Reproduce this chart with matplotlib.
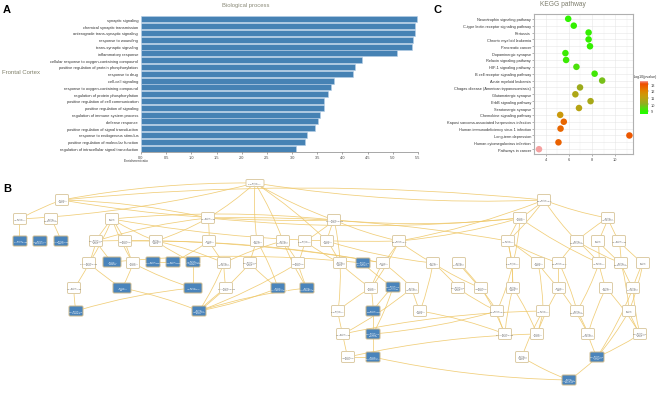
import matplotlib
matplotlib.use('Agg')
import matplotlib.pyplot as plt
import numpy as np
from matplotlib.patches import FancyBboxPatch, FancyArrowPatch
from matplotlib.colors import LinearSegmentedColormap, Normalize
from matplotlib.cm import ScalarMappable

plt.rcParams['font.family'] = ['Liberation Sans', 'DejaVu Sans']

# panel A - GO biological process
go_terms = ["synaptic signaling", "chemical synaptic transmission",
            "anterograde trans-synaptic signaling", "response to wounding",
            "trans-synaptic signaling", "inflammatory response",
            "cellular response to oxygen-containing compound",
            "positive regulation of protein phosphorylation", "response to drug",
            "cell-cell signaling", "response to oxygen-containing compound",
            "regulation of protein phosphorylation",
            "positive regulation of cell communication",
            "positive regulation of signaling",
            "regulation of immune system process", "defense response",
            "positive regulation of signal transduction",
            "response to endogenous stimulus",
            "positive regulation of molecular function",
            "regulation of intracellular signal transduction"]
go_ratio = [5.48, 5.45, 5.45, 5.40, 5.39, 5.08, 4.39, 4.25, 4.20, 3.84,
            3.77, 3.71, 3.64, 3.63, 3.55, 3.51, 3.45, 3.29, 3.26, 3.07]

# panel C - KEGG pathway
kegg_paths = ["Neurotrophin signaling pathway", "C-type lectin receptor signaling pathway",
              "Pertussis", "Chronic myeloid leukemia", "Pancreatic cancer",
              "Dopaminergic synapse", "Relaxin signaling pathway",
              "HIF-1 signaling pathway", "B cell receptor signaling pathway",
              "Acute myeloid leukemia", "Chagas disease (American trypanosomiasis)",
              "Glutamatergic synapse", "ErbB signaling pathway", "Serotonergic synapse",
              "Chemokine signaling pathway",
              "Kaposi sarcoma-associated herpesvirus infection",
              "Human immunodeficiency virus 1 infection", "Long-term depression",
              "Human cytomegalovirus infection", "Pathways in cancer"]
kegg_x = [5.95, 6.43, 7.71, 7.71, 7.83, 5.71, 5.77, 6.66, 8.23, 8.88,
          6.97, 6.57, 7.88, 6.88, 5.26, 5.57, 5.29, 11.23, 5.11, 3.43]
kegg_logp = [8.9, 9.0, 9.0, 9.0, 9.0, 9.1, 9.1, 9.3, 9.2, 9.8,
             10.3, 10.6, 10.5, 10.8, 11.3, 12.5, 12.5, 12.8, 12.6, 13.45]
legend_ticks = [9, 10, 11, 12, 13]

# panel B - GO DAG layout (x, y in figure pixels), blue = enriched term
node_x = [255, 62, 544, 20, 51, 112, 208, 334, 520, 608,
          20, 40, 61, 96, 125, 156, 209, 257, 283, 305,
          327, 399, 508, 577, 598, 619, 89, 112, 133, 153,
          173, 193, 224, 250, 298, 340, 363, 383, 433, 459,
          513, 538, 559, 599, 621, 643, 74, 122, 193, 226,
          278, 307, 371, 393, 412, 458, 481, 513, 559, 606,
          633, 76, 199, 338, 373, 420, 497, 543, 577, 629,
          343, 373, 505, 537, 588, 640, 348, 373, 522, 597, 569]
node_y = [184, 201, 201, 220, 220, 220, 219, 221, 219, 219,
          242, 242, 242, 242, 242, 242, 242, 242, 242, 242,
          242, 242, 242, 242, 242, 242, 264, 263, 264, 263,
          263, 263, 264, 264, 264, 264, 264, 264, 264, 264,
          264, 264, 264, 264, 264, 264, 289, 289, 289, 289,
          289, 289, 289, 288, 289, 289, 289, 289, 289, 289,
          289, 312, 312, 312, 312, 312, 312, 312, 312, 312,
          335, 335, 335, 335, 335, 335, 358, 358, 358, 358, 381]
node_blue = [0, 0, 0, 0, 0, 0, 0, 0, 0, 0,
             1, 1, 1, 0, 0, 0, 0, 0, 0, 0,
             0, 0, 0, 0, 0, 0, 0, 1, 0, 1,
             1, 1, 0, 0, 0, 0, 1, 0, 0, 0,
             0, 0, 0, 0, 0, 0, 0, 1, 1, 0,
             1, 1, 0, 1, 0, 0, 0, 0, 0, 0,
             0, 1, 1, 0, 1, 0, 0, 0, 0, 0,
             0, 1, 0, 0, 0, 0, 0, 1, 0, 1, 1]
edges = [(0, 1), (0, 3), (0, 2), (0, 6), (0, 17), (0, 18), (0, 7), (0, 20),
         (1, 3), (1, 6), (1, 7), (1, 2), (3, 10), (4, 12),
         (5, 13), (5, 14), (5, 15), (5, 26), (5, 28), (5, 7), (5, 21),
         (6, 16), (6, 13), (6, 15), (6, 8), (6, 22),
         (7, 20), (7, 19), (7, 21), (7, 35), (7, 8),
         (2, 8), (2, 9), (2, 22), (2, 23), (2, 21),
         (8, 22), (8, 21), (8, 43), (8, 40), (9, 23), (9, 24), (9, 25),
         (13, 26), (13, 27), (13, 37), (14, 28), (14, 37), (15, 31), (15, 32),
         (16, 32), (16, 30), (17, 33), (17, 50), (18, 32), (18, 34), (18, 51),
         (19, 34), (19, 35), (20, 35), (20, 38), (21, 37), (21, 38), (21, 52),
         (22, 40), (22, 41), (22, 42), (22, 57), (23, 42), (23, 43), (23, 44),
         (24, 43), (24, 44), (25, 44), (25, 45), (26, 46), (26, 47),
         (28, 47), (28, 48), (31, 48), (32, 49), (32, 62), (33, 50), (33, 62),
         (34, 51), (34, 62), (35, 52), (35, 63), (36, 53), (37, 54), (37, 52),
         (38, 55), (38, 56), (38, 65), (39, 56), (39, 66), (40, 57), (40, 66),
         (41, 58), (41, 67), (42, 58), (42, 68), (43, 59), (43, 68),
         (44, 60), (44, 69), (45, 60), (45, 69), (46, 61), (47, 62),
         (49, 62), (50, 62), (51, 62), (61, 48), (52, 63), (52, 64),
         (53, 64), (53, 71), (54, 65), (54, 70), (55, 66), (56, 72),
         (57, 72), (57, 73), (58, 73), (58, 74), (59, 74), (59, 75),
         (60, 75), (60, 79), (63, 70), (64, 71), (70, 76), (71, 77), (76, 77),
         (65, 72), (66, 72), (67, 73), (67, 78), (68, 74), (69, 75), (69, 79),
         (74, 79), (75, 79), (78, 80), (79, 80), (77, 80), (76, 73),
         (71, 66), (70, 67), (29, 30), (27, 36)]
parent_terms = ["biological_process", "response to stimulus", "biological regulation",
                "cellular process", "regulation of biological process",
                "signaling", "cell communication", "multicellular organismal process",
                "response to chemical", "regulation of cellular process",
                "positive regulation of biological process", "immune system process",
                "regulation of response to stimulus", "response to stress",
                "regulation of signaling", "regulation of phosphorylation"]

fig = plt.figure(figsize=(6.69, 4.06), dpi=100)
W, H = 669.0, 406.0

# ---------- A ----------
axA = fig.add_axes([141 / W, 1 - 153 / H, 277 / W, 136 / H])
ypos = np.arange(len(go_terms))
axA.barh(ypos, go_ratio, height=0.9, color='#4682b4', edgecolor='#b7cfe6', linewidth=0.4)
axA.set_ylim(len(go_terms) - 0.5, -0.5)
axA.set_xlim(0, 5.5)
axA.set_yticks(ypos)
axA.set_yticklabels(go_terms, fontsize=2.9, color='#333333')
axA.set_xticks(np.arange(0, 5.51, 0.5))
axA.set_xticklabels(["%.1f" % v for v in np.arange(0, 5.51, 0.5)], fontsize=2.8, color='#444444')
axA.tick_params(axis='y', length=0, pad=2)
axA.tick_params(axis='x', length=1.5, width=0.4, pad=1, color='#666666')
for s in ['top', 'right', 'left']:
    axA.spines[s].set_visible(False)
axA.spines['bottom'].set_linewidth(0.4)
axA.spines['bottom'].set_color('#666666')

fig.text(222 / W, 1 - 5 / H, "Biological process", fontsize=4.2, color='#8a8a78', va='center')
fig.text(2 / W, 1 - 73 / H, "Frontal Cortex", fontsize=4.3, color='#80806a', va='center')
fig.text(136 / W, 1 - 161 / H, "Enrichment ratio", fontsize=2.3, color='#333333', ha='center', va='center')

# ---------- C ----------
axC = fig.add_axes([534 / W, 1 - 155 / H, 99 / W, 140 / H])
cmap = LinearSegmentedColormap.from_list('kegg', [
    (0.00, '#22ff00'), (0.09, '#33f000'), (0.19, '#5ad810'), (0.30, '#8cb020'),
    (0.40, '#a8a818'), (0.50, '#c0a010'), (0.60, '#d09508'), (0.70, '#e08400'),
    (0.80, '#e86800'), (0.90, '#ee5000'), (0.94, '#ee5a20'), (1.00, '#f4a0a0')])
norm = Normalize(vmin=8.55, vmax=13.45)
yk = np.arange(len(kegg_paths))
axC.scatter(kegg_x, yk, c=kegg_logp, cmap=cmap, norm=norm, s=22, linewidths=0, zorder=3)
axC.set_ylim(len(kegg_paths) - 0.3, -0.7)
axC.set_xlim(3.06, 11.54)
axC.set_yticks(yk)
axC.set_yticklabels(kegg_paths, fontsize=2.8, color='#333333')
axC.set_xticks([4, 6, 8, 10])
axC.set_xticklabels(['4', '6', '8', '10'], fontsize=2.8, color='#444444')
axC.set_xticks([3, 5, 7, 9, 11], minor=True)
axC.tick_params(axis='both', length=1.2, width=0.4, pad=1, color='#777777')
axC.tick_params(axis='x', which='minor', length=0)
axC.grid(True, which='major', color='#e6e6e6', linewidth=0.4, zorder=0)
axC.grid(True, which='minor', axis='x', color='#f0f0f0', linewidth=0.3, zorder=0)
axC.set_axisbelow(True)
for s in axC.spines.values():
    s.set_color('#b0b0b0')
    s.set_linewidth(0.8)

cax = fig.add_axes([640 / W, 1 - 115 / H, 8 / W, 33 / H])
cb = fig.colorbar(ScalarMappable(norm=norm, cmap=cmap), cax=cax)
cb.set_ticks(legend_ticks)
cb.ax.tick_params(labelsize=2.8, length=1, width=0.3, pad=1, colors='#444444')
cb.outline.set_visible(False)
fig.text(634 / W, 1 - 77 / H, "-log10(pvalue)", fontsize=2.6, color='#333333', va='center')
fig.text(563 / W, 1 - 5 / H, "KEGG pathway", fontsize=4.8, color='#7f7f6e', ha='center', va='center')

# ---------- B ----------
axB = fig.add_axes([0, 0, 1, 226 / H])
axB.set_xlim(0, W)
axB.set_ylim(H, 180)
axB.axis('off')

for k, (a, b) in enumerate(edges):
    rad = 0.05 if k % 2 == 0 else -0.05
    p = FancyArrowPatch((node_x[a], node_y[a]), (node_x[b], node_y[b]),
                        arrowstyle='-', connectionstyle='arc3,rad=%.2f' % rad,
                        color='#efc869', linewidth=0.55, alpha=0.9, zorder=1)
    axB.add_patch(p)

bi = 0
wi = 0
for i in range(len(node_x)):
    blue = node_blue[i] == 1
    w = 14 if blue else 13
    h = 10 if blue else 11
    if i == 0:
        w, h = 18, 7
    if i in (27, 47, 48):
        w = 18
    box = FancyBboxPatch((node_x[i] - w / 2, node_y[i] - h / 2), w, h,
                         boxstyle='round,pad=0,rounding_size=1.2',
                         facecolor='#4a84bb' if blue else 'white',
                         edgecolor='#cdb98c' if blue else '#dccca6',
                         linewidth=0.7, zorder=2)
    axB.add_patch(box)
    if blue:
        lab = go_terms[bi % len(go_terms)]
        bi += 1
    else:
        lab = parent_terms[wi % len(parent_terms)]
        wi += 1
    words = lab.split()
    lines = [' '.join(words[j:j + 2]) for j in range(0, len(words), 2)]
    axB.text(node_x[i], node_y[i], "GO:term\n" + "\n".join(lines),
             fontsize=1.2, ha='center', va='center', linespacing=0.9,
             color='white' if blue else '#666666', zorder=3)

fig.text(3 / W, 1 - 5 / H, "A", fontsize=8, weight='bold', va='top')
fig.text(3 / W, 1 - 184 / H, "B", fontsize=8, weight='bold', va='top')
fig.text(434 / W, 1 - 5 / H, "C", fontsize=8, weight='bold', va='top')

fig.savefig('out.png', dpi=100)
